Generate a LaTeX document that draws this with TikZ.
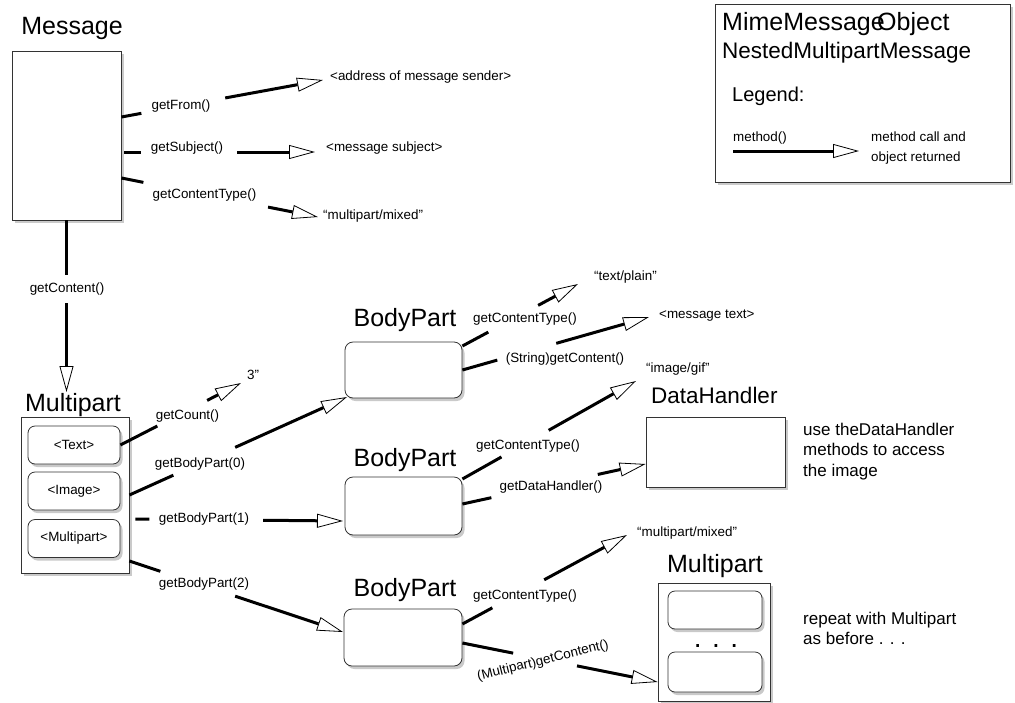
\documentclass[tikz,border=0pt]{standalone}
\usepackage{fontspec}
\setmainfont{Liberation Sans}
\usetikzlibrary{arrows.meta,shadows,calc}
\newcommand\fsm{\fontsize{13.4}{16}\selectfont}
\newcommand\fbig{\fontsize{25}{30}\selectfont}
\newcommand\fmid{\fontsize{17}{20}\selectfont}
\begin{document}
\begin{tikzpicture}[x=1pt,y=-1pt,
  box/.style={draw=black!80, line width=0.8pt, fill=white, inner sep=0pt,
    drop shadow={shadow xshift=2.5pt, shadow yshift=-3pt, opacity=0.35, fill=black!60}},
  rbox/.style={box, rounded corners=8pt},
  title/.style={font=\fbig, anchor=base, inner sep=0pt},
  lab/.style={font=\fsm, inner sep=0pt},
  res/.style={font=\fsm, inner sep=0pt, anchor=west},
  txt/.style={inner sep=0pt, anchor=base west},
  stub/.style={line width=3pt},
  call/.style={line width=3pt, -{Triangle[length=26pt, width=14pt, line width=0.8pt, fill=white]}},
]
\useasboundingbox (0,0) rectangle (1015,702);

% ---------- boxes ----------
\node[box, minimum width=109pt, minimum height=169pt] (msg) at (66.5,135.5) {};
\node[title] (msgT) at (72,34) {Message};

\node[box, minimum width=108pt, minimum height=156pt] (mp) at (75,495) {};
\node[title] (mpT) at (73,411) {Multipart};
\node[rbox, rounded corners=7pt, minimum width=92pt, minimum height=38pt, font=\fsm] (tx) at (74,445) {<Text>};
\node[rbox, rounded corners=7pt, minimum width=92pt, minimum height=38pt, font=\fsm] (im) at (74,491) {<Image>};
\node[rbox, rounded corners=7pt, minimum width=92pt, minimum height=38pt, font=\fsm] (mpi) at (74,538.5) {<Multipart>};

\node[rbox, minimum width=117pt, minimum height=56pt] (bp1) at (403.5,370) {};
\node[title] (bp1T) at (405,326) {BodyPart};
\node[rbox, minimum width=117pt, minimum height=58pt] (bp2) at (403.5,506) {};
\node[title] (bp2T) at (405,466) {BodyPart};
\node[rbox, minimum width=118pt, minimum height=57pt] (bp3) at (403,637.5) {};
\node[title] (bp3T) at (405,596) {BodyPart};

\node[box, minimum width=139pt, minimum height=70pt] (dh) at (715.5,452) {};
\node[txt, font=\fontsize{22.5}{27}\selectfont] (dhT) at (651,403) {DataHandler};

\node[box, minimum width=112pt, minimum height=118pt] (mp2) at (714,642) {};
\node[title] (mp2T) at (715,572) {Multipart};
\node[rbox, rounded corners=7pt, minimum width=94pt, minimum height=38pt] (mp2a) at (715,610) {};
\node[rbox, rounded corners=7pt, minimum width=94pt, minimum height=40pt] (mp2b) at (715,672) {};
\node[inner sep=0pt, anchor=base, font=\fontsize{28}{30}\selectfont] (dots) at (716,647) {. . .};

% ---------- legend ----------
\node[box, minimum width=295pt, minimum height=178pt] (leg) at (862.5,93) {};
\node[txt, font=\fbig] (lgA) at (722,30) {MimeMessage};
\node[txt, font=\fbig] (lgB) at (877,30) {Object};
\node[txt, font=\fontsize{22.5}{27}\selectfont] (lgC) at (722,58) {NestedMultipartMessage};
\node[txt, font=\fontsize{20}{24}\selectfont] (lgD) at (732,101.5) {Legend:};
\node[txt, font=\fsm] (lgE) at (733,141.5) {method()};
\node[txt, font=\fsm] (lgF) at (871,141) {method call and};
\node[txt, font=\fsm] (lgG) at (871,161) {object returned};
\coordinate (ls) at (733,151);
\coordinate (lt) at (859,151);
\draw[call] (ls) -- (lt);

% ---------- result texts ----------
\node[res] (addr) at (330,77.5) {<address of message sender>};
\node[res] (subj) at (326,148.5) {<message subject>};
\node[res] (mixA) at (323,216.5) {“multipart/mixed”};
\node[res] (three) at (247,375) {3”};
\node[res] (plain) at (594,277) {“text/plain”};
\node[res] (mtext) at (659,316) {<message text>};
\node[res] (gif) at (646,369) {“image/gif”};
\node[res] (mixB) at (637,533) {“multipart/mixed”};

\node[txt, font=\fmid] (useA) at (803,435) {use theDataHandler};
\node[txt, font=\fmid] (useB) at (803,455.5) {methods to access};
\node[txt, font=\fmid] (useC) at (803,476) {the image};
\node[txt, font=\fmid] (repA) at (803,624) {repeat with Multipart};
\node[txt, font=\fmid] (repB) at (803,644) {as before . . .};

% ---------- connectors ----------
% getFrom
\coordinate (s1) at (msg.east |- 0,117);
\coordinate (t1) at (323,80);
\draw[stub] (s1) -- ($(s1)!0.099!(t1)$);
\draw[call] ($(s1)!0.515!(t1)$) -- (t1);
\node[lab] (l1) at (181,106.5) {getFrom()};
% getSubject
\coordinate (s2) at (msg.east |- 0,152);
\coordinate (t2) at (315,152);
\draw[stub] ($(s2)!0.015!(t2)$) -- ($(s2)!0.103!(t2)$);
\draw[call] ($(s2)!0.598!(t2)$) -- (t2);
\node[lab] (l2) at (187,148) {getSubject()};
% getContentType (message)
\coordinate (s3) at (msg.east |- 0,178);
\coordinate (t3) at (318,217);
\draw[stub] (s3) -- ($(s3)!0.112!(t3)$);
\draw[call] ($(s3)!0.746!(t3)$) -- (t3);
\node[lab] (l3) at (204.5,195.5) {getContentType()};
% getContent
\coordinate (s4) at (msg.south);
\coordinate (t4) at (66.5,392);
\draw[stub] (s4) -- ($(s4)!0.32!(t4)$);
\draw[call] ($(s4)!0.483!(t4)$) -- (t4);
\node[lab] (l4) at (67,289) {getContent()};
% getCount
\coordinate (s5) at (tx.east);
\coordinate (t5) at (241,383);
\draw[stub] (s5) -- ($(s5)!0.306!(t5)$);
\draw[call] ($(s5)!0.719!(t5)$) -- (t5);
\node[lab] (l5) at (187.5,416) {getCount()};
% getBodyPart(0)
\coordinate (s6) at (mp.east |- 0,495);
\coordinate (t6) at (347,397);
\draw[stub] (s6) -- ($(s6)!0.202!(t6)$);
\draw[call] ($(s6)!0.486!(t6)$) -- (t6);
\node[lab] (l6) at (200,464) {getBodyPart(0)};
% getBodyPart(1)
\coordinate (s7) at (mp.east |- 0,519);
\coordinate (t7) at (343,521);
\draw[stub] ($(s7)!0.028!(t7)$) -- ($(s7)!0.093!(t7)$);
\draw[call] ($(s7)!0.626!(t7)$) -- (t7);
\node[lab] (l7) at (204,519) {getBodyPart(1)};
% getBodyPart(2)
\coordinate (s8) at (mp.east |- 0,561);
\coordinate (t8) at (343,632);
\draw[stub] (s8) -- ($(s8)!0.145!(t8)$);
\draw[call] ($(s8)!0.495!(t8)$) -- (t8);
\node[lab] (l8) at (204,584) {getBodyPart(2)};
% bp1 getContentType
\coordinate (s9) at (bp1.east |- 0,346);
\coordinate (t9) at (578,284);
\draw[stub] (s9) -- ($(s9)!0.224!(t9)$);
\draw[call] ($(s9)!0.655!(t9)$) -- (t9);
\node[lab] (l9) at (525,319) {getContentType()};
% bp1 (String)getContent()
\coordinate (s10) at (bp1.east |- 0,370);
\coordinate (t10) at (649,317);
\draw[stub] (s10) -- ($(s10)!0.187!(t10)$);
\draw[call] ($(s10)!0.503!(t10)$) -- (t10);
\node[lab] (l10) at (565,359) {(String)getContent()};
% bp2 getContentType
\coordinate (s11) at (bp2.east |- 0,479);
\coordinate (t11) at (636,381);
\draw[stub] (s11) -- ($(s11)!0.225!(t11)$);
\draw[call] ($(s11)!0.497!(t11)$) -- (t11);
\node[lab] (l11) at (528,446) {getContentType()};
% bp2 getDataHandler
\coordinate (s12) at (bp2.east |- 0,504);
\coordinate (t12) at (dh.west |- 0,464);
\draw[stub] (s12) -- ($(s12)!0.158!(t12)$);
\draw[call] ($(s12)!0.739!(t12)$) -- (t12);
\node[lab] (l12) at (551,487.5) {getDataHandler()};
% bp3 getContentType
\coordinate (s13) at (bp3.east |- 0,624);
\coordinate (t13) at (627,535);
\draw[stub] (s13) -- ($(s13)!0.182!(t13)$);
\draw[call] ($(s13)!0.497!(t13)$) -- (t13);
\node[lab] (l13) at (525,596) {getContentType()};
% bp3 (Multipart)getContent()
\coordinate (s14) at (bp3.east |- 0,643);
\coordinate (t14) at (mp2.west |- 0,682);
\draw[stub] (s14) -- ($(s14)!0.26!(t14)$);
\draw[call] ($(s14)!0.587!(t14)$) -- (t14);
\node[lab, rotate=14] (l14) at (543,661) {(Multipart)getContent()};
\end{tikzpicture}
\end{document}
